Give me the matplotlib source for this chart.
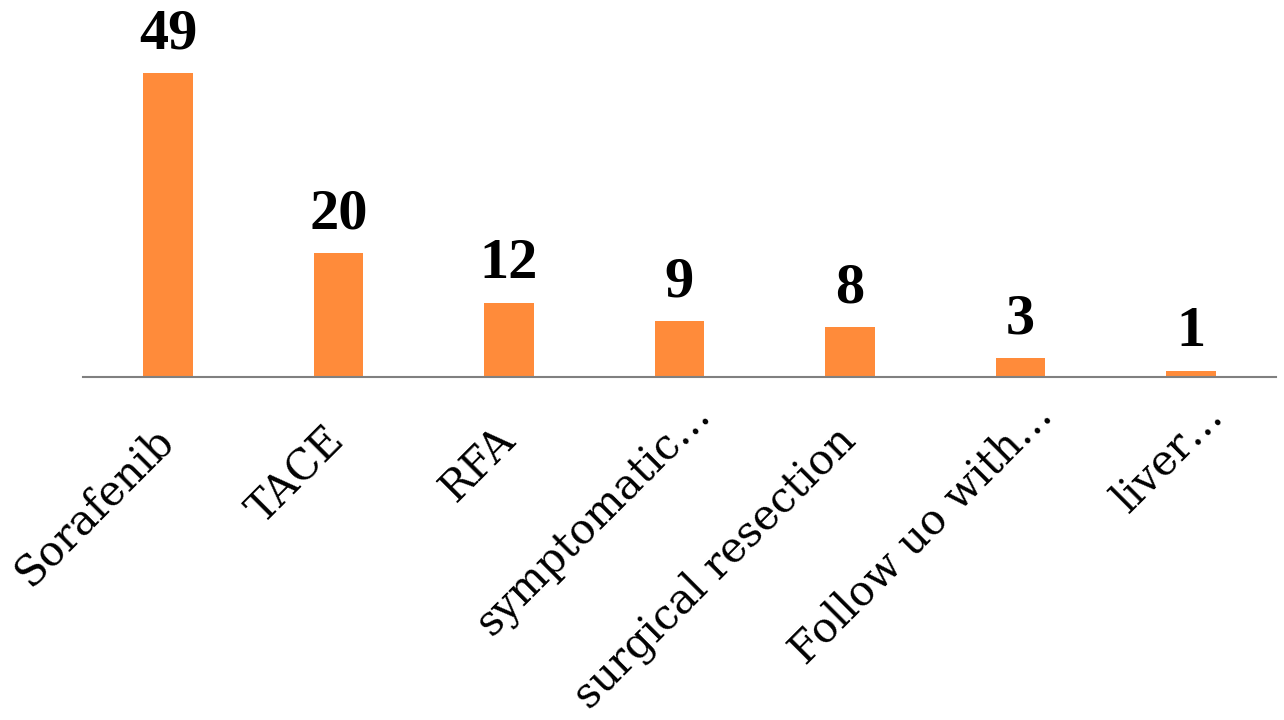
import matplotlib
matplotlib.use("Agg")
import matplotlib.pyplot as plt
from matplotlib.transforms import ScaledTranslation

categories = ["Sorafenib", "TACE", "RFA", "symptomatic…", "surgical resection",
              "Follow uo with…", "liver…"]
counts = [49, 20, 12, 9, 8, 3, 1]

plt.rcParams['font.family'] = ['DejaVu Serif']

fig = plt.figure(figsize=(12.84, 7.2), dpi=100)
ax = fig.add_axes([0.0646, 0.4764, 0.9292, 0.5236])

x = range(len(categories))
bars = ax.bar(x, counts, width=0.29, color='#FF8B3A')

for xi, v in zip(x, counts):
    ax.text(xi, v + 2.0, str(v), ha='center', va='bottom',
            fontsize=42, fontweight='bold', color='black',
            family=['Liberation Serif'])

ax.set_xlim(-0.5, len(categories) - 0.5)
ax.set_ylim(0, 60.8)
ax.set_xticks(list(x))
ax.set_xticklabels(categories, rotation=45, ha='right', va='top', fontsize=30)
ax.tick_params(axis='x', length=0, pad=30)
# truncated labels sit a bit further along the diagonal in the original
shift = ScaledTranslation(0.14, 0, fig.dpi_scale_trans)
shift_trunc = ScaledTranslation(0.40, 0.25, fig.dpi_scale_trans)
for lab in ax.get_xticklabels():
    if lab.get_text().endswith('…'):
        lab.set_transform(lab.get_transform() + shift_trunc)
    else:
        lab.set_transform(lab.get_transform() + shift)
ax.set_yticks([])
for s in ['top', 'right', 'left']:
    ax.spines[s].set_visible(False)
ax.spines['bottom'].set_color('#808080')
ax.spines['bottom'].set_linewidth(1.5)

fig.savefig('out.png', dpi=100)
